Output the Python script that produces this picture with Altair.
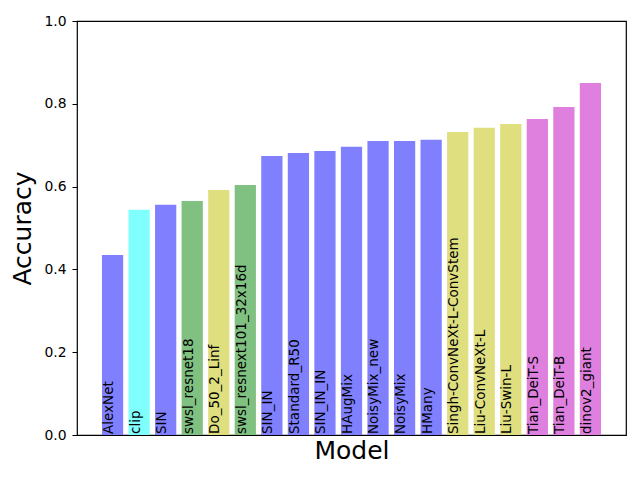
import altair as alt
import pandas as pd

models = ["AlexNet", "clip", "SIN", "swsl_resnet18", "Do_50_2_Linf",
          "swsl_resnext101_32x16d", "SIN_IN", "Standard_R50", "SIN_IN_IN",
          "HAugMix", "NoisyMix_new", "NoisyMix", "HMany",
          "Singh-ConvNeXt-L-ConvStem", "Liu-ConvNeXt-L", "Liu-Swin-L",
          "Tian_DeiT-S", "Tian_DeiT-B", "dinov2_giant"]
accuracy = [0.435, 0.544, 0.556, 0.565, 0.592, 0.604, 0.674, 0.681, 0.686,
            0.696, 0.710, 0.710, 0.713, 0.732, 0.742, 0.751, 0.763, 0.792, 0.850]
groups = ["b", "c", "b", "g", "y", "g", "b", "b", "b", "b", "b", "b", "b",
          "y", "y", "y", "m", "m", "m"]

group_names = ["b", "c", "g", "y", "m"]
group_colors = ["#8080ff", "#80ffff", "#80c080", "#dfdf80", "#df80df"]

df = pd.DataFrame({"model": models, "acc": accuracy, "grp": groups})

xscale = alt.Scale(domain=models, paddingInner=0.2, paddingOuter=0.94)

bars = alt.Chart(df).mark_bar().encode(
    x=alt.X("model:N", sort=models, scale=xscale,
            axis=alt.Axis(title="Model", labels=False, ticks=False, domain=False,
                          titleFont="DejaVu Sans", titleFontSize=25,
                          titleFontWeight="normal", titleColor="black",
                          titlePadding=3)),
    y=alt.Y("acc:Q", scale=alt.Scale(domain=[0, 1], nice=False),
            axis=alt.Axis(title="Accuracy", values=[0, 0.2, 0.4, 0.6, 0.8, 1.0],
                          format=".1f", grid=False, domain=False,
                          tickSize=5, tickColor="black", labelColor="black",
                          labelFont="DejaVu Sans", labelFontSize=13.9,
                          labelPadding=6, titleFont="DejaVu Sans",
                          titleFontSize=25, titleFontWeight="normal",
                          titleColor="black", titlePadding=8)),
    color=alt.Color("grp:N", scale=alt.Scale(domain=group_names, range=group_colors),
                    legend=None),
)

labels = alt.Chart(df).mark_text(
    angle=270, align="left", baseline="top", font="DejaVu Sans",
    fontSize=13.5, color="black", dy=0, dx=1
).encode(
    x=alt.X("model:N", sort=models, scale=xscale, bandPosition=0),
    y=alt.datum(0),
    text="model:N",
)

chart = (bars + labels).properties(
    width=549, height=414,
    padding={"left": 69, "top": 13, "right": 6, "bottom": 30},
    autosize=alt.AutoSizeParams(type="none"),
).configure_view(stroke="black", strokeWidth=1.2)

chart.save("out.html", embed_options={"renderer": "svg", "actions": False})
